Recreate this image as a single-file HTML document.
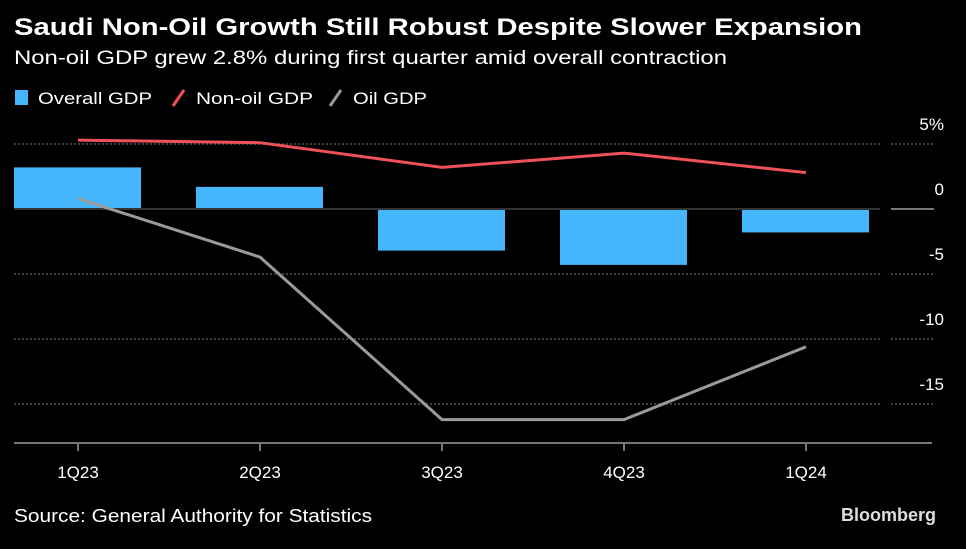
<!DOCTYPE html>
<html><head><meta charset="utf-8"><style>
body{margin:0;background:#000;width:966px;height:544px;overflow:hidden;font-family:"Liberation Sans",sans-serif;color:#fff}
</style></head><body>
<svg width="966" height="544" xmlns="http://www.w3.org/2000/svg">
<text x="14" y="35" font-size="24" font-weight="bold" fill="#fff" textLength="848" lengthAdjust="spacingAndGlyphs">Saudi Non-Oil Growth Still Robust Despite Slower Expansion</text>
<text x="14" y="64" font-size="19" fill="#fff" textLength="713" lengthAdjust="spacingAndGlyphs">Non-oil GDP grew 2.8% during first quarter amid overall contraction</text>
<g font-size="17" fill="#fff">
<rect x="15" y="90" width="13" height="15" fill="#45b6fb"/>
<text x="38" y="104" textLength="114" lengthAdjust="spacingAndGlyphs">Overall GDP</text>
<line x1="173" y1="106" x2="184" y2="90" stroke="#f0505a" stroke-width="3"/>
<text x="196" y="104" textLength="117" lengthAdjust="spacingAndGlyphs">Non-oil GDP</text>
<line x1="330" y1="106" x2="341" y2="90" stroke="#999" stroke-width="3"/>
<text x="353" y="104" textLength="74" lengthAdjust="spacingAndGlyphs">Oil GDP</text>
</g>
<g id="grid"></g><g id="bars"></g><g id="lines"></g><g id="axes"></g>
<text x="14" y="522" font-size="18" fill="#fff" textLength="358" lengthAdjust="spacingAndGlyphs">Source: General Authority for Statistics</text>
<text x="936" y="521" font-size="18" font-weight="bold" fill="#ddd" text-anchor="end">Bloomberg</text>
</svg>
<script>
const categories=["1Q23","2Q23","3Q23","4Q23","1Q24"];
const overallGDP=[3.2,1.7,-3.2,-4.3,-1.8];
const nonOilGDP=[5.3,5.1,3.2,4.3,2.8];
const oilGDP=[0.8,-3.7,-16.2,-16.2,-10.6];
const yTicks=[5,0,-5,-10,-15];
const yTickLabels=["5%","0","-5","-10","-15"];
const NS="http://www.w3.org/2000/svg";
function y(v){return 209-v*13;}
function x(i){return 78+i*182;}
function mk(tag,attrs,parent){const e=document.createElementNS(NS,tag);for(const k in attrs)e.setAttribute(k,attrs[k]);document.getElementById(parent).appendChild(e);return e;}
yTicks.forEach((t,i)=>{
 if(t!==0){const g=mk("line",{x1:14,x2:880,y1:y(t),y2:y(t),stroke:"#555","stroke-width":1.5,"stroke-dasharray":"2,2"},"grid");
 
 
 const g2=mk("line",{x1:891,x2:934,y1:y(t),y2:y(t),stroke:"#555","stroke-width":1.5,"stroke-dasharray":"2,2"},"grid");
 
 }
 const tx=mk("text",{x:944,y:y(t)-14,"font-size":17,fill:"#fff","text-anchor":"end"},"grid");tx.textContent=yTickLabels[i];
 
 
});
overallGDP.forEach((v,i)=>{
 const r=mk("rect",{x:x(i)-64,width:127,y:Math.min(y(v),y(0)),height:Math.abs(y(v)-y(0)),fill:"#45b6fb"},"bars");
 
 
});
const z=mk("line",{x1:14,x2:880,y1:y(0),y2:y(0),stroke:"#333","stroke-width":2},"bars");


const z2=mk("line",{x1:891,x2:934,y1:y(0),y2:y(0),stroke:"#777","stroke-width":2},"bars");


function line(arr,color,name){
 const p=mk("polyline",{points:arr.map((v,i)=>x(i)+","+y(v)).join(" "),fill:"none",stroke:color,"stroke-width":3},"lines");
 
 
}
line(oilGDP,"#9a9a9a","oil-gdp-line");
line(nonOilGDP,"#f0505a","nonoil-gdp-line");
const ax=mk("line",{x1:14,x2:932,y1:443,y2:443,stroke:"#777","stroke-width":2},"axes");


categories.forEach((c,i)=>{
 const t=mk("line",{x1:x(i),x2:x(i),y1:443,y2:451,stroke:"#777","stroke-width":2},"axes");
 
 
 const l=mk("text",{x:x(i),y:478,"font-size":17,fill:"#fff","text-anchor":"middle"},"axes");l.textContent=c;
 
 
});
</script>
</body></html>
